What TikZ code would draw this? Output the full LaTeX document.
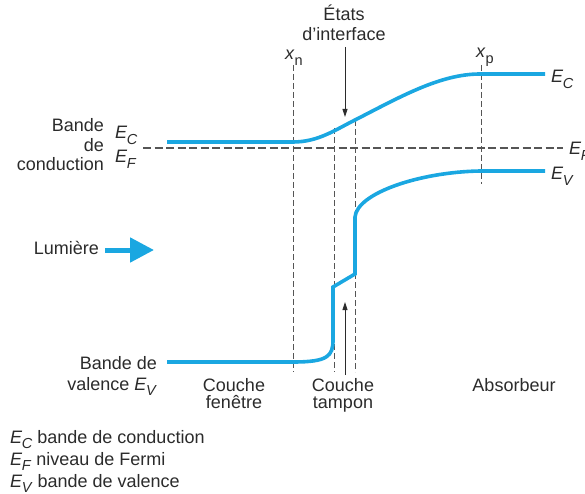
\documentclass[tikz,border=0pt]{standalone}
\usepackage{fontspec}
\setmainfont{Liberation Sans}
\usetikzlibrary{arrows.meta}
\definecolor{band}{HTML}{1AA7E1}
\definecolor{txt}{HTML}{2B2B2B}
\definecolor{dsh}{HTML}{555555}
\newcommand{\Es}[1]{\textit{E}\kern-0.3pt\raisebox{-0.32em}{\fontsize{14.5}{14.5}\selectfont\textit{#1}}}
\newcommand{\xs}[1]{\textit{x}\raisebox{-0.32em}{\fontsize{14.5}{14.5}\selectfont #1}}
\begin{document}
\begin{tikzpicture}[x=1pt,y=-1pt,
 every node/.style={text=txt,font=\fontsize{18}{19.5}\selectfont,inner sep=0pt,outer sep=0pt},
 tight/.style={font=\fontsize{18}{17.5}\selectfont},
 bandline/.style={draw=band,line width=3.6pt},
 guide/.style={draw=dsh,line width=0.9pt,dash pattern=on 6pt off 3pt},
 fermi/.style={draw=dsh,line width=1.1pt,dash pattern=on 8pt off 3.5pt},
 pointer/.style={draw=txt,line width=0.9pt,-{Triangle[length=8pt,width=5pt]}},
 lightarrow/.style={draw=band,line width=5pt,-{Triangle[length=24pt,width=24pt]}},
]
\useasboundingbox (0,0) rectangle (585,494);

% guide coordinates
\coordinate (xnT) at (293,65);  \coordinate (xnB) at (293,372);
\coordinate (xpT) at (481,65);  \coordinate (xpB) at (481,184);
\coordinate (g1T) at (334,128); \coordinate (g1B) at (334,372);
\coordinate (g2T) at (355,120); \coordinate (g2B) at (355,372);
\coordinate (fL) at (143,148);  \coordinate (fR) at (563,148);

\path[guide] (xnT) -- (xnB);
\path[guide] (xpT) -- (xpB);
\path[guide] (g1T) -- (g1B);
\path[guide] (g2T) -- (g2B);
\path[fermi] (fL) -- (fR);

% conduction band
\coordinate (c0) at (167,142);
\coordinate (c1) at (293,142);
\coordinate (c2) at (355,120);
\coordinate (c3) at (480,74);
\coordinate (c4) at (545,74);
\path[bandline] (c0) -- (c1) .. controls (318,142) and (335,130) .. (c2)
  .. controls (400,97) and (440,74) .. (c3) -- (c4);

% valence band
\coordinate (v0) at (167,362);
\coordinate (v1) at (293,362);
\coordinate (v2) at (333,340);
\coordinate (v3) at (333,287);
\coordinate (v4) at (355,274);
\coordinate (v5) at (355,217);
\coordinate (v6) at (480,171);
\coordinate (v7) at (545,171);
\path[bandline,line join=miter] (v0) -- (v1) .. controls (328,362) and (333,356) .. (v2)
  -- (v3) -- (v4) -- (v5) .. controls (357,193) and (420,172) .. (v6) -- (v7);

% labels
\node[align=right,anchor=east] (cb) at (104,145) {Bande\\de\\conduction};
\node[anchor=base west] (ecL) at (115,139) {\Es{C}};
\node[anchor=base west] (efL) at (115,163) {\Es{F}};
\node[anchor=base east] (lum) at (99,254) {Lumière};
\coordinate (lumtip) at (154,250);
\coordinate (lumstart) at (105,250);
\path[lightarrow] (lumstart) -- (lumtip);
\node[align=right,anchor=east,font=\fontsize{18}{21}\selectfont] (vb) at (157,376) {Bande de\\valence \Es{V}};
\node[align=center,anchor=north,tight] (fen) at (234,378) {Couche\\fenêtre};
\node[align=center,anchor=north,tight] (tam) at (343,378) {Couche\\tampon};
\node[anchor=base] (abs) at (514,391) {Absorbeur};
\node[align=center] (etats) at (344,23) {États\\d’interface};
\node[anchor=base west] (xn) at (285,60) {\xs{n}};
\node[anchor=base west] (xp) at (476,58) {\xs{p}};
\node[anchor=base west] (ecR) at (551,83) {\Es{C}};
\node[anchor=base west] (evR) at (551,180) {\Es{V}};
\node[anchor=base west] (efR) at (569,155) {\Es{F}};

% pointers
\coordinate (pa1) at (345,47);  \coordinate (pa2) at (345,117);
\coordinate (pb1) at (345,375); \coordinate (pb2) at (345,302);
\path[pointer] (pa1) -- (pa2);
\path[pointer] (pb1) -- (pb2);

% legend
\node[align=left,anchor=north west,font=\fontsize{18}{22}\selectfont] (leg) at (10,430)
 {\Es{C} bande de conduction\\\Es{F} niveau de Fermi\\\Es{V} bande de valence};
\end{tikzpicture}
\end{document}
